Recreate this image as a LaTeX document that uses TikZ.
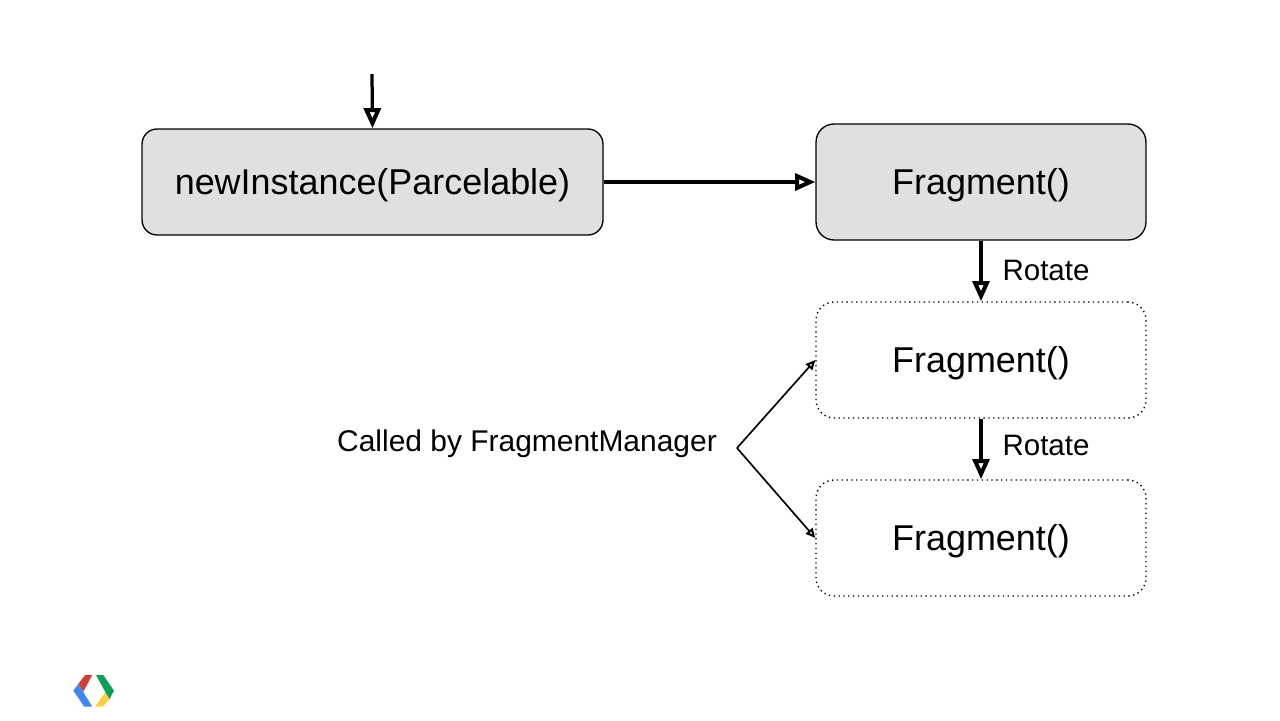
\documentclass[tikz,border=0pt]{standalone}
\usepackage{fontspec}
\setmainfont{Liberation Sans}
\usetikzlibrary{arrows.meta}
\definecolor{boxgray}{HTML}{E0E0E0}
\definecolor{logored}{HTML}{D23F36}
\definecolor{logoblue}{HTML}{4285F4}
\definecolor{logogreen}{HTML}{0F9D58}
\definecolor{logoyellow}{HTML}{FFCD42}
\tikzset{
	callbox/.style={draw, line width=0.75pt, rounded corners=0.36cm, inner sep=0pt, text=black, text height=15pt, text depth=1pt, font=\fontsize{20.45}{24}\selectfont},
	solidbox/.style={callbox, fill=boxgray},
	dotbox/.style={callbox, dotted, line width=0.8pt},
	bigflow/.style={line width=1.85pt, -{Triangle[open, length=11.5pt, width=9.5pt, line width=2.3pt]}},
	smallflow/.style={line width=0.95pt, -{Triangle[open, length=5.5pt, width=5pt, line width=1.2pt]}},
	steplabel/.style={font=\fontsize{16.8}{20}\selectfont},
}
\begin{document}
\begin{tikzpicture}[x=0.02cm, y=-0.02cm]
	\useasboundingbox (0, 0) rectangle (1280, 720) ;

	\node[solidbox, minimum width=9.22cm, minimum height=2.12cm, rounded corners=0.3cm] (instance) at (372.5, 182) {newInstance(Parcelable)} ;
	\node[solidbox, minimum width=6.6cm, minimum height=2.32cm] (created) at (981, 182) {Fragment()} ;
	\node[dotbox, minimum width=6.6cm, minimum height=2.32cm] (rotated) at (981, 360) {Fragment()} ;
	\node[dotbox, minimum width=6.6cm, minimum height=2.32cm] (again) at (981, 538) {Fragment()} ;

	\coordinate (entry) at (372, 74) ;
	\coordinate (fork) at (737, 448) ;

	\draw[bigflow] (entry) -- (instance.north) ;
	\draw[bigflow] (instance) -- (created) ;
	\draw[bigflow] (created) -- (rotated) ;
	\draw[bigflow] (rotated) -- (again) ;

	\node[steplabel] (rotateone) at (1046, 270) {Rotate} ;
	\node[steplabel] (rotatetwo) at (1046, 445) {Rotate} ;

	\node[steplabel, font=\fontsize{17.05}{20}\selectfont] (manager) at (527, 444) {Called by FragmentManager} ;
	\draw[smallflow] (fork) -- (rotated.west) ;
	\draw[smallflow] (fork) -- (again.west) ;

	% logo
	\fill[logored] (78.3, 684) -- (85, 675) -- (92.3, 675) -- (83.3, 691.7) -- cycle ;
	\fill[logoblue] (73.3, 690.7) -- (78.3, 684) -- (92.3, 706.7) -- (84.3, 706.7) -- cycle ;
	\fill[logogreen] (96, 675) -- (103.3, 675) -- (114, 690.7) -- (109.3, 699.3) -- cycle ;
	\fill[logoyellow] (105, 692.3) -- (109.3, 699.3) -- (102.7, 706.7) -- (95.3, 706.7) -- cycle ;
\end{tikzpicture}
\end{document}
